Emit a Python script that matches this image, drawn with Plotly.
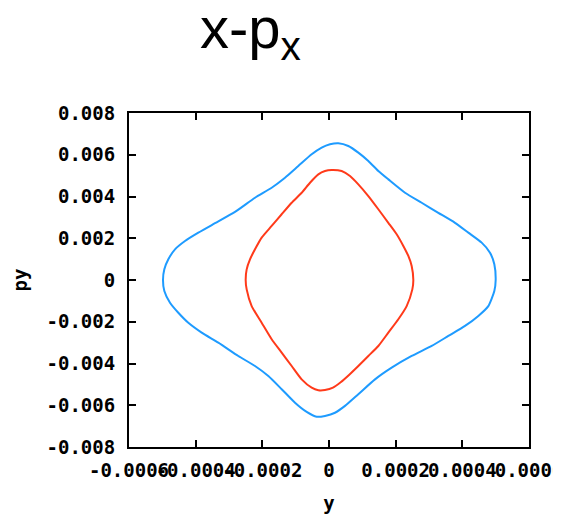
import plotly.graph_objects as go

# outer orbit (blue), traced clockwise from the left extreme
blue_x = [-0.000498, -0.000494, -0.000482, -0.000462, -0.000432, -0.000392, -0.000342, -0.000282,
          -0.000222, -0.000172, -0.000132, -0.000092, -0.000052, -0.000022, 0.000003,
          0.000028, 0.000058, 0.000088, 0.000118, 0.000148, 0.000178, 0.000228, 0.000278,
          0.000328, 0.000378, 0.000418, 0.000458, 0.000483, 0.000496, 0.000500,
          0.000496, 0.000478, 0.000448, 0.000408, 0.000358, 0.000308, 0.000248, 0.000188,
          0.000138, 0.000088, 0.000048, 0.000018, -0.000012,
          -0.000037, -0.000067, -0.000102, -0.000142, -0.000182, -0.000222, -0.000272,
          -0.000332, -0.000382, -0.000422, -0.000452, -0.000477, -0.000494, -0.000498]
blue_y = [0.0, 0.00051, 0.00099, 0.00147, 0.00187, 0.00227, 0.00272, 0.00326,
          0.00394, 0.00442, 0.00490, 0.00546, 0.00602, 0.00634, 0.00650,
          0.00655, 0.00642, 0.00610, 0.00570, 0.00522, 0.00482, 0.00418, 0.00370,
          0.00322, 0.00274, 0.00227, 0.00179, 0.00131, 0.00075, 0.0,
          -0.00053, -0.00125, -0.00172, -0.00220, -0.00268, -0.00316, -0.00364, -0.00420,
          -0.00476, -0.00547, -0.00603, -0.00636, -0.00651,
          -0.00655, -0.00632, -0.00588, -0.00523, -0.00460, -0.00412, -0.00364,
          -0.00300, -0.00252, -0.00205, -0.00157, -0.00109, -0.00053, 0.0]

# inner orbit (red)
red_x = [-0.000250, -0.000247, -0.000237, -0.000222, -0.000202, -0.000172, -0.000142, -0.000112,
         -0.000082, -0.000057, -0.000032, -0.000012, 0.000008, 0.000038, 0.000063, 0.000088,
         0.000118, 0.000148, 0.000178, 0.000203, 0.000223, 0.000238, 0.000248, 0.000253,
         0.000250, 0.000233, 0.000208, 0.000178, 0.000148, 0.000118, 0.000088, 0.000060,
         0.000035, 0.000012, -0.000012, -0.000032, -0.000052, -0.000082, -0.000112, -0.000142,
         -0.000172, -0.000202, -0.000232, -0.000247, -0.000250]
red_y = [0.0, 0.00051, 0.00099, 0.00147, 0.00203, 0.00259, 0.00315, 0.00370,
         0.00418, 0.00466, 0.00506, 0.00522, 0.00527, 0.00522, 0.00498, 0.00458,
         0.00402, 0.00339, 0.00274, 0.00219, 0.00163, 0.00115, 0.00067, 0.0,
         -0.00045, -0.00125, -0.00188, -0.00252, -0.00316, -0.00364, -0.00412, -0.00455,
         -0.00490, -0.00516, -0.00527, -0.00528, -0.00516, -0.00476, -0.00412, -0.00348,
         -0.00284, -0.00205, -0.00125, -0.00045, 0.0]

x_ticks = [-0.0006, -0.0004, -0.0002, 0, 0.0002, 0.0004, 0.0006]
x_labels = ["-0.0006", "-0.0004", "-0.0002", "0", "0.0002", "0.0004", "0.0006"]
y_ticks = [-0.008, -0.006, -0.004, -0.002, 0, 0.002, 0.004, 0.006, 0.008]
y_labels = ["-0.008", "-0.006", "-0.004", "-0.002", "0", "0.002", "0.004", "0.006", "0.008"]

tick_font = dict(family="DejaVu Sans Mono", size=19, color="black", weight="bold")

fig = go.Figure()
fig.add_trace(go.Scatter(x=blue_x, y=blue_y, mode="lines", line=dict(color="#1E9BFF", width=2, shape="spline", smoothing=0.6),
                         showlegend=False))
fig.add_trace(go.Scatter(x=red_x, y=red_y, mode="lines", line=dict(color="#FF3A1A", width=2, shape="spline", smoothing=0.6),
                         showlegend=False))

axis_common = dict(showline=True, linecolor="black", linewidth=2, mirror="ticks", ticks="inside",
                   ticklen=7, tickwidth=1.5, tickcolor="black", showgrid=False, zeroline=False,
                   tickfont=tick_font, tickangle=0, automargin=False, ticklabeloverflow="allow")

fig.update_xaxes(range=[-0.0006, 0.0006], tickvals=x_ticks, ticktext=x_labels, ticklabelstandoff=5,
                 title=dict(text="y", font=tick_font, standoff=17), **axis_common)
fig.update_yaxes(range=[-0.008, 0.008], tickvals=y_ticks, ticktext=y_labels, ticklabelstandoff=8,
                 title=dict(text="py", font=tick_font, standoff=14), **axis_common)

# page body adds ~8px offset, margins below are compensated for it
fig.update_layout(
    width=561, height=514,
    margin=dict(l=121, r=40, t=105, b=75),
    paper_bgcolor="white", plot_bgcolor="white",
    annotations=[dict(text="x-p<sub>x</sub>", x=0.3025, y=1.0, xref="paper", yref="paper",
                      xanchor="center", yanchor="bottom", yshift=42, showarrow=False,
                      font=dict(family="Liberation Sans", size=58, color="black"))],
)

fig.write_html("out.html")
